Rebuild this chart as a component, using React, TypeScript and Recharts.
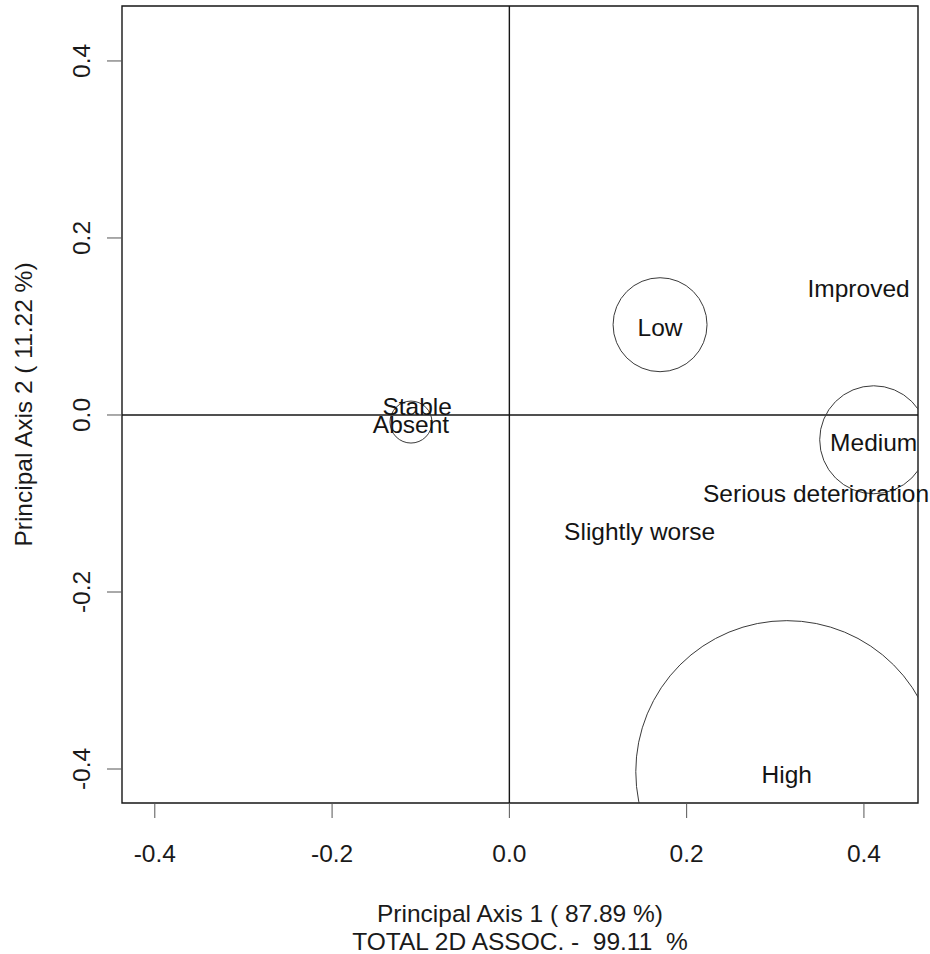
import React from 'react';
import { ScatterChart, Scatter, XAxis, YAxis, ZAxis, ReferenceLine, ReferenceArea } from 'recharts';

// Row categories (with mass circles)
const rowLabels = ['Absent', 'Low', 'Medium', 'High'];
const rowAxis1 = [-0.111, 0.170, 0.411, 0.313];
const rowAxis2 = [-0.008, 0.102, -0.028, -0.403];
const rowInertia = [0.00056, 0.00281, 0.00371, 0.02903];

// Column categories
const colLabels = ['Improved', 'Stable', 'Slightly worse', 'Serious deterioration'];
const colAxis1 = [0.394, -0.104, 0.147, 0.346];
const colAxis2 = [0.146, 0.012, -0.129, -0.086];

const xTicks = [-0.4, -0.2, 0, 0.2, 0.4];
const yTicks = [-0.4, -0.2, 0, 0.2, 0.4];
const xDomain: [number, number] = [-0.437, 0.461];
const yDomain: [number, number] = [-0.4384, 0.4621];

const xTitle1 = 'Principal Axis 1 ( 87.89 %)';
const xTitle2 = 'TOTAL 2D ASSOC. -  99.11  %';
const yTitle = 'Principal Axis 2 ( 11.22 %)';

const rowPoints = rowLabels.map((label, i) => ({ label, x: rowAxis1[i], y: rowAxis2[i], z: rowInertia[i] }));
const colPoints = colLabels.map((label, i) => ({ label, x: colAxis1[i], y: colAxis2[i] }));
const labelPoints = [...rowPoints, ...colPoints];

const FONT = '"Liberation Sans", Arial, Helvetica, sans-serif';
const FS = 24.5;
const PX_PER_UNIT = 886.4;

const fmt = (v: number) => v.toFixed(1);

const CircleShape = (props: any) => {
  const { cx, cy } = props;
  const r = props.width ? props.width / 2 : Math.sqrt((props.size || 0) / Math.PI);
  return <circle cx={cx} cy={cy} r={r} fill="none" stroke="#3a3a3a" strokeWidth={1} />;
};

const LabelShape = (props: any) => {
  const { cx, cy } = props;
  const label = props.payload?.label ?? props.label;
  return (
    <text x={cx} y={cy + 11} textAnchor="middle" fontSize={FS} fill="#141414" fontFamily={FONT}>
      {label}
    </text>
  );
};

const YTick = (props: any) => {
  const { x, y, payload } = props;
  const tx = x - 17;
  return (
    <text x={tx} y={y} transform={`rotate(-90, ${tx}, ${y})`} textAnchor="middle" fontSize={FS} fill="#1a1a1a" fontFamily={FONT}>
      {fmt(payload.value)}
    </text>
  );
};

const XTitle = (props: any) => {
  const vb = props.viewBox || {};
  const cx = vb.x + vb.width / 2;
  return (
    <text x={cx} y={vb.y + 119} textAnchor="middle" fontSize={FS} fill="#1a1a1a" fontFamily={FONT} style={{ whiteSpace: 'pre' }}>
      <tspan x={cx}>{xTitle1}</tspan>
      <tspan x={cx} dy={28}>{xTitle2}</tspan>
    </text>
  );
};

const YTitle = (props: any) => {
  const vb = props.viewBox || {};
  const cy = vb.y + vb.height / 2;
  const tx = 31.5;
  return (
    <text x={tx} y={cy} transform={`rotate(-90, ${tx}, ${cy})`} textAnchor="middle" fontSize={FS} fill="#1a1a1a" fontFamily={FONT}>
      {yTitle}
    </text>
  );
};

export default function App() {
  return (
    <div style={{ position: 'absolute', left: 0, top: 0, width: 930, height: 954, background: '#fff' }}>
      <ScatterChart width={930} height={954} margin={{ top: 6, right: 12, bottom: 0, left: 0 }}>
        <XAxis
          xAxisId="main"
          type="number"
          dataKey="x"
          domain={xDomain}
          ticks={xTicks}
          allowDataOverflow
          interval={0}
          height={151}
          axisLine={false}
          tickLine={{ stroke: '#555', strokeWidth: 1 }}
          tickSize={15}
          tickMargin={27}
          tick={{ fontSize: FS, fill: '#1a1a1a', fontFamily: FONT }}
          tickFormatter={fmt}
          label={XTitle}
        />
        <YAxis
          yAxisId="main"
          type="number"
          dataKey="y"
          domain={yDomain}
          ticks={yTicks}
          allowDataOverflow
          interval={0}
          width={122}
          axisLine={false}
          tickLine={{ stroke: '#555', strokeWidth: 1 }}
          tickSize={15}
          tickMargin={0}
          tick={YTick}
          label={YTitle}
        />
        <XAxis xAxisId="lab" type="number" dataKey="x" domain={xDomain} hide height={0} />
        <YAxis yAxisId="lab" type="number" dataKey="y" domain={yDomain} hide width={0} />
        <ZAxis dataKey="z" type="number" domain={[0, 1]} range={[0, Math.PI * PX_PER_UNIT * PX_PER_UNIT]} />
        <ReferenceArea
          xAxisId="main"
          yAxisId="main"
          x1={xDomain[0]}
          x2={xDomain[1]}
          y1={yDomain[0]}
          y2={yDomain[1]}
          fill="none"
          fillOpacity={0}
          stroke="#161616"
          strokeWidth={1.4}
          ifOverflow="visible"
        />
        <ReferenceLine xAxisId="main" yAxisId="main" x={0} stroke="#161616" strokeWidth={1.4} />
        <ReferenceLine xAxisId="main" yAxisId="main" y={0} stroke="#161616" strokeWidth={1.4} />
        <Scatter xAxisId="main" yAxisId="main" data={rowPoints} shape={CircleShape} isAnimationActive={false} />
        <Scatter xAxisId="lab" yAxisId="lab" data={labelPoints} shape={LabelShape} isAnimationActive={false} />
      </ScatterChart>
    </div>
  );
}
